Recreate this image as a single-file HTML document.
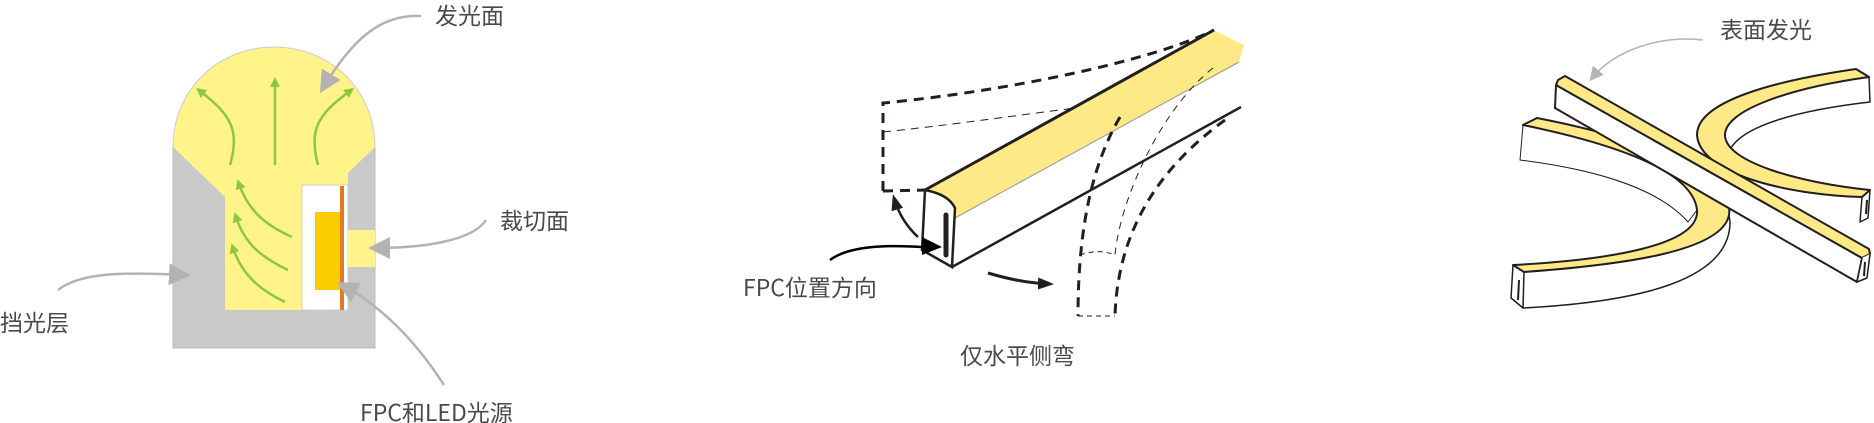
<!DOCTYPE html>
<html><head><meta charset="utf-8"><style>
html,body{margin:0;padding:0;background:#fff;width:1874px;height:423px;overflow:hidden}
svg{display:block}
text{font-family:"Noto Sans CJK SC","Liberation Sans",sans-serif;fill:#4a4a4a;font-size:23px}
</style></head><body>
<svg width="1874" height="423" viewBox="0 0 1874 423" xmlns="http://www.w3.org/2000/svg">
<defs>
<marker id="ga" markerWidth="10" markerHeight="10" refX="5" refY="5" orient="auto" markerUnits="userSpaceOnUse" viewBox="0 0 10 10"><path d="M0,0L10,5L0,10z" fill="#8dc63f"/></marker>
<marker id="gr" markerWidth="22" markerHeight="22" refX="16" refY="11" orient="auto" markerUnits="userSpaceOnUse" viewBox="0 0 22 22"><path d="M0,0L22,11L0,22z" fill="#b3b3b3"/></marker>
<marker id="gs" markerWidth="14" markerHeight="14" refX="10" refY="7" orient="auto" markerUnits="userSpaceOnUse" viewBox="0 0 14 14"><path d="M0,0L14,7L0,14z" fill="#b3b3b3"/></marker>
<marker id="bk" markerWidth="16" markerHeight="12" refX="12" refY="6" orient="auto" markerUnits="userSpaceOnUse" viewBox="0 0 16 12"><path d="M0,0L16,6L0,12z" fill="#231f20"/></marker>
</defs>

<!-- LEFT DIAGRAM -->
<rect x="173" y="147" width="202" height="201" fill="#c8c9c8" stroke="#bbb" stroke-width="1"/>
<path d="M173,147 C173,90 218,47 274,47 C330,47 375,90 375,147 L348,173 L348,185 L302,185 L302,310 L225,310 L225,197 Z" fill="#fff38a"/>
<path d="M173,147 C173,90 218,47 274,47 C330,47 375,90 375,147" fill="none" stroke="#ccc" stroke-width="1"/>
<rect x="302" y="185" width="46" height="125" fill="#fff" stroke="#ccc" stroke-width="1"/>
<rect x="340" y="186" width="4" height="124" fill="#e07b20"/>
<rect x="315" y="212" width="25" height="78" fill="#fbcd00"/>
<rect x="348" y="230" width="27" height="37" fill="#fff38a"/>
<g fill="none" stroke="#8dc63f" stroke-width="2.5" marker-end="url(#ga)">
<path d="M275,165 L275,82"/>
<path d="M230,165 C240,130 231,115 200,91"/>
<path d="M318,165 C309,130 317,115 350,91"/>
<path d="M292,237 C265,225 248,210 239,184"/>
<path d="M288,270 C263,258 245,245 236,217"/>
<path d="M285,302 C260,290 242,275 233,248"/>
</g>
<g fill="none" stroke="#b3b3b3" stroke-width="2.5" marker-end="url(#gr)">
<path d="M421,16 C380,14 352,40 323,88"/>
<path d="M486,220 C473,240 427,248 374,248"/>
<path d="M58,290 C80,272 127,272 185,275"/>
<path d="M444,385 C415,340 380,305 342,285"/>
</g>
<text x="435" y="24" font-size="24">发光面</text>
<text x="500" y="229" font-size="24">裁切面</text>
<text x="0" y="331" font-size="24">挡光层</text>
<text x="360" y="421" font-size="24">FPC和LED光源</text>

<!-- MIDDLE DIAGRAM -->
<g fill="none" stroke="#231f20">
<path d="M883,191 L883,103 C1000,92 1150,62 1214,30" stroke-width="3" stroke-dasharray="10,7"/>
<path d="M883,191 L925,190" stroke-width="3" stroke-dasharray="10,7"/>
<path d="M883,132 C950,125 1020,115 1075,108" stroke-width="1" stroke-dasharray="8,6"/>
</g>
<path d="M925,190 L1214,30 L1244,45 L1239,62 L955,218 Z" fill="#fee987"/>
<path d="M955,218 L1239,62 L1241,107 L952,267 Z" fill="#fff"/>
<path d="M925,190 L1214,30" stroke="#231f20" stroke-width="3" fill="none"/>
<path d="M955,218 L1239,62" stroke="#999" stroke-width="1" fill="none"/>
<path d="M952,267 L1241,107" stroke="#231f20" stroke-width="2.5" fill="none"/>
<path d="M925,190 C940,193 950,198 955,208 L952,267 L922,250 Z" fill="#fff" stroke="#231f20" stroke-width="2.5"/>
<line x1="946" y1="215" x2="946" y2="255" stroke="#231f20" stroke-width="5" stroke-linecap="round"/>
<path d="M922,237 L942,247 L922,255 Z" fill="#000"/>
<path d="M830,260 C850,245 890,245 922,247" stroke="#000" stroke-width="2.5" fill="none"/>
<path d="M918,237 C905,225 898,212 894,198" stroke="#231f20" stroke-width="2.5" fill="none" marker-end="url(#bk)"/>
<path d="M988,273 C1005,278 1025,283 1050,284" stroke="#231f20" stroke-width="3" fill="none" marker-end="url(#bk)"/>
<g fill="none" stroke="#231f20">
<path d="M1120,117 C1095,160 1078,220 1078,316" stroke-width="3" stroke-dasharray="10,7"/>
<path d="M1225,120 C1170,160 1118,220 1115,316" stroke-width="3" stroke-dasharray="10,7"/>
<path d="M1213,68 C1160,110 1120,200 1115,255" stroke-width="1" stroke-dasharray="7,6"/>
<path d="M1080,255 C1095,250 1105,251 1115,255" stroke-width="1" stroke-dasharray="5,4"/>
<path d="M1078,316 L1115,316" stroke-width="1" stroke-dasharray="5,4"/>
</g>
<text x="743" y="296" font-size="24">FPC位置方向</text>
<text x="960" y="364" font-size="24">仅水平侧弯</text>

<!-- RIGHT DIAGRAM -->
<path d="M1703,40 C1660,35 1615,50 1592,78" stroke="#b3b3b3" stroke-width="1.5" fill="none" marker-end="url(#gs)"/>
<text x="1720" y="38" font-size="24">表面发光</text>
<g stroke="#231f20" stroke-linejoin="round">
<!-- right arc -->
<path d="M1856,69 L1869,77 L1870,102 C1800,110 1745,125 1731,148 C1750,175 1800,188 1866,190 L1870,190 L1868,218 L1860,222 L1862,197 C1790,195 1700,175 1697,135 C1697,100 1780,80 1856,69 Z" fill="#fff" stroke-width="1.5"/>
<path d="M1856,69 L1869,77 C1790,88 1725,110 1725,135 C1725,162 1800,183 1870,190 L1862,197 C1790,195 1700,175 1697,135 C1697,100 1780,80 1856,69 Z" fill="#fee987" stroke-width="2"/>
<line x1="1867" y1="200" x2="1866" y2="214" stroke-width="2"/>
<!-- left arc sides -->
<path d="M1523,125 L1520,160 C1600,170 1660,190 1688,222 L1697,210 C1693,172 1620,145 1523,125 Z" fill="#fff" stroke-width="1"/>
<path d="M1513,265 L1511,298 L1523,308 C1640,302 1730,280 1730,222 L1729,215 C1722,252 1620,265 1524,272 Z" fill="#fff" stroke-width="1.5"/>
<path d="M1523,125 L1537,118 C1650,140 1735,175 1729,215 C1722,252 1620,265 1524,272 L1513,265 C1610,260 1700,245 1697,210 C1693,172 1620,145 1523,125 Z" fill="#fee987" stroke-width="2"/>
<line x1="1519" y1="280" x2="1518" y2="300" stroke-width="2"/>
<line x1="1524" y1="272" x2="1523" y2="308" stroke-width="1.5"/>
<!-- straight bar -->
<path d="M1556,85 L1862,258 L1857,282 L1555,108 Z" fill="#fff" stroke-width="2"/>
<path d="M1556,85 L1558,80 L1565,76 L1869,249 L1870,254 L1862,258 Z" fill="#fee987" stroke-width="2"/>
<path d="M1862,258 L1857,282 L1867,278 L1870,254" fill="#fff" stroke-width="1.5"/>
<line x1="1865" y1="262" x2="1864" y2="276" stroke-width="2"/>
</g>
</svg>
</body></html>
